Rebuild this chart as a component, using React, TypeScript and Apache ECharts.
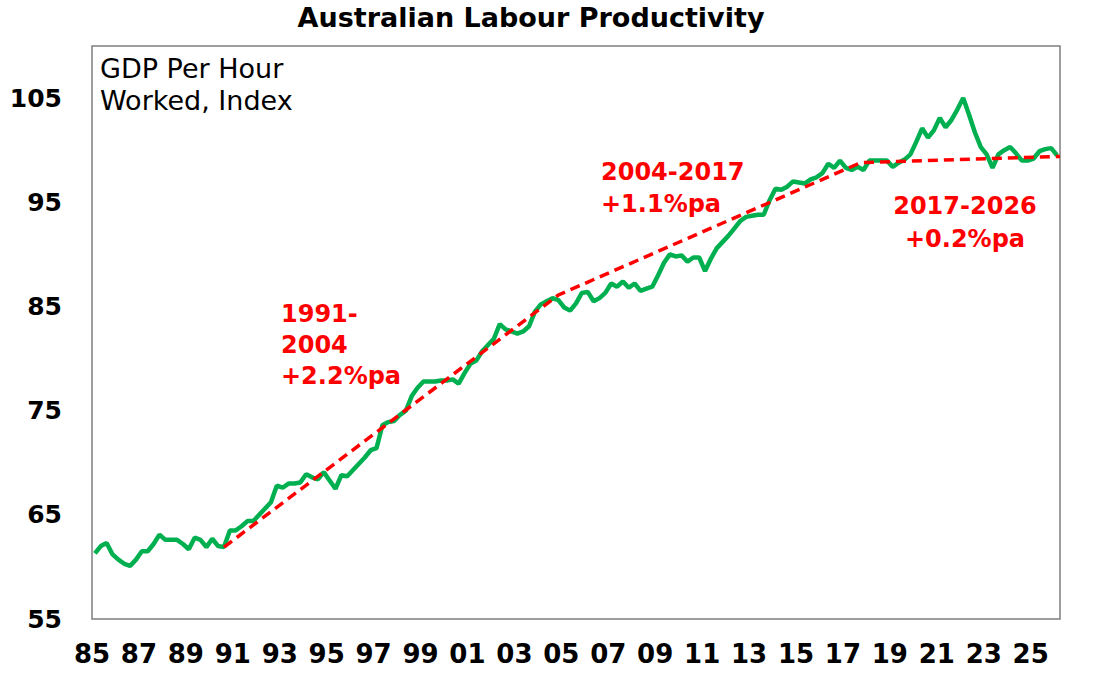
import React, { useEffect, useRef } from "react";
import * as echarts from "echarts";

// Quarterly GDP per hour worked index, starting 1985 Q1 (plotted mid-quarter)
const START_YEAR = 1985.125;
const productivity: number[] = [
  61.3, 62.0, 62.3, 61.2, // 1985
  60.7, 60.3, 60.1, 60.7, // 1986
  61.5, 61.5, 62.2, 63.1, // 1987
  62.6, 62.6, 62.6, 62.2, // 1988
  61.7, 62.8, 62.6, 61.9, // 1989
  62.7, 62.0, 61.9, 63.5, // 1990
  63.5, 63.9, 64.4, 64.4, // 1991
  65.0, 65.6, 66.2, 67.8, // 1992
  67.6, 68.0, 68.0, 68.1, // 1993
  68.9, 68.6, 68.4, 69.1, // 1994
  68.3, 67.5, 68.8, 68.7, // 1995
  69.3, 69.9, 70.5, 71.2, // 1996
  71.4, 73.6, 73.9, 74.0, // 1997
  74.6, 75.0, 76.4, 77.2, // 1998
  77.8, 77.8, 77.8, 77.9, // 1999
  77.9, 78.0, 77.6, 78.6, // 2000
  79.5, 79.8, 80.7, 81.3, // 2001
  81.9, 83.3, 82.8, 82.6, // 2002
  82.4, 82.6, 83.1, 84.5, // 2003
  85.2, 85.5, 85.8, 85.6, // 2004
  84.9, 84.6, 85.3, 86.3, // 2005
  86.4, 85.5, 85.8, 86.3, // 2006
  87.2, 86.9, 87.4, 86.8, // 2007
  87.2, 86.5, 86.7, 86.9, // 2008
  88.0, 89.2, 90.0, 89.8, // 2009
  89.9, 89.3, 89.7, 89.7, // 2010
  88.4, 89.6, 90.6, 91.2, // 2011
  91.8, 92.5, 93.2, 93.6, // 2012
  93.7, 93.8, 93.8, 95.2, // 2013
  96.3, 96.2, 96.5, 97.0, // 2014
  96.9, 96.8, 97.2, 97.4, // 2015
  97.8, 98.7, 98.3, 99.0, // 2016
  98.3, 98.1, 98.4, 98.1, // 2017
  99.0, 99.0, 99.0, 99.0, // 2018
  98.4, 98.8, 99.1, 99.6, // 2019
  100.8, 102.1, 101.2, 101.9, // 2020
  103.1, 102.2, 102.9, 103.9, // 2021
  105.0, 103.4, 101.7, 100.3, // 2022
  99.6, 98.3, 99.6, 100.0, // 2023
  100.3, 99.7, 99.0, 99.0, // 2024
  99.2, 99.9, 100.1, 100.2, // 2025
  99.5, // 2026
];

// Trend line break points [year, index]
const trendYears: number[] = [1990.625, 2004.875, 2017.75, 2026.25];
const trendValues: number[] = [61.9, 86.1, 98.8, 99.4];

const xTickYears: number[] = [
  1985, 1987, 1989, 1991, 1993, 1995, 1997, 1999, 2001, 2003, 2005,
  2007, 2009, 2011, 2013, 2015, 2017, 2019, 2021, 2023, 2025,
];
const yTickValues: number[] = [55, 65, 75, 85, 95, 105];

const TITLE = "Australian Labour Productivity";
const UNIT_LABEL = "GDP Per Hour\nWorked, Index";
const ANNOT_1 = "1991-\n2004\n+2.2%pa";
const ANNOT_2 = "2004-2017\n+1.1%pa";
const ANNOT_3 = "2017-2026\n+0.2%pa";

const FONT = "'DejaVu Sans', 'Liberation Sans', Arial, sans-serif";

export default function App() {
  const ref = useRef<HTMLDivElement>(null);

  useEffect(() => {
    if (!ref.current) return;
    const chart = echarts.init(ref.current, undefined, { renderer: "svg" });

    const lineData = productivity.map((v, i) => [START_YEAR + i * 0.25, v]);
    const trendData = trendYears.map((y, i) => [y, trendValues[i]]);

    chart.setOption({
      animation: false,
      backgroundColor: "#ffffff",
      grid: {
        left: 92,
        right: 37,
        top: 46,
        bottom: 61,
        show: true,
        borderColor: "#7f7f7f",
        borderWidth: 1.5,
        backgroundColor: "transparent",
      },
      xAxis: {
        type: "value",
        min: 1985,
        max: 2026.25,
        axisLine: { show: false },
        axisTick: { show: false },
        splitLine: { show: false },
        axisLabel: {
          customValues: xTickYears,
          formatter: (v: number) => String(Math.round(v) % 100).padStart(2, "0"),
          fontFamily: FONT,
          fontSize: 26,
          fontWeight: "bold",
          color: "#000",
          margin: 22,
        },
      },
      yAxis: {
        type: "value",
        min: 55,
        max: 110,
        axisLine: { show: false },
        axisTick: { show: false },
        splitLine: { show: false },
        axisLabel: {
          customValues: yTickValues,
          fontFamily: FONT,
          fontSize: 25,
          fontWeight: "bold",
          color: "#000",
          margin: 30,
        },
      },
      series: [
        {
          type: "line",
          data: lineData,
          showSymbol: false,
          symbol: "none",
          lineStyle: { color: "#00b050", width: 4.5 },
          z: 2,
        },
        {
          type: "line",
          data: trendData,
          showSymbol: false,
          symbol: "none",
          lineStyle: { color: "#ff0000", width: 3.5, type: [10, 6] },
          z: 3,
        },
      ],
      graphic: [
        {
          type: "text",
          x: 531,
          y: 4,
          style: {
            text: TITLE,
            font: `bold 27px ${FONT}`,
            fill: "#000",
            textAlign: "center",
            textVerticalAlign: "top",
          },
        },
        {
          type: "text",
          x: 100,
          y: 52,
          style: {
            text: UNIT_LABEL,
            font: `27px ${FONT}`,
            fill: "#000",
            lineHeight: 32,
            textAlign: "left",
            textVerticalAlign: "top",
          },
        },
        {
          type: "text",
          x: 281,
          y: 298,
          style: {
            text: ANNOT_1,
            font: `bold 24px ${FONT}`,
            fill: "#ff0000",
            lineHeight: 31,
            textAlign: "left",
            textVerticalAlign: "top",
          },
        },
        {
          type: "text",
          x: 601,
          y: 156,
          style: {
            text: ANNOT_2,
            font: `bold 24px ${FONT}`,
            fill: "#ff0000",
            lineHeight: 32,
            textAlign: "left",
            textVerticalAlign: "top",
          },
        },
        {
          type: "text",
          x: 965,
          y: 189,
          style: {
            text: ANNOT_3,
            font: `bold 24px ${FONT}`,
            fill: "#ff0000",
            lineHeight: 33,
            textAlign: "center",
            textVerticalAlign: "top",
          },
        },
      ],
    });

    return () => chart.dispose();
  }, []);

  return (
    <div
      ref={ref}
      style={{ position: "fixed", left: 0, top: 0, width: 1097, height: 680, background: "#fff" }}
    />
  );
}
